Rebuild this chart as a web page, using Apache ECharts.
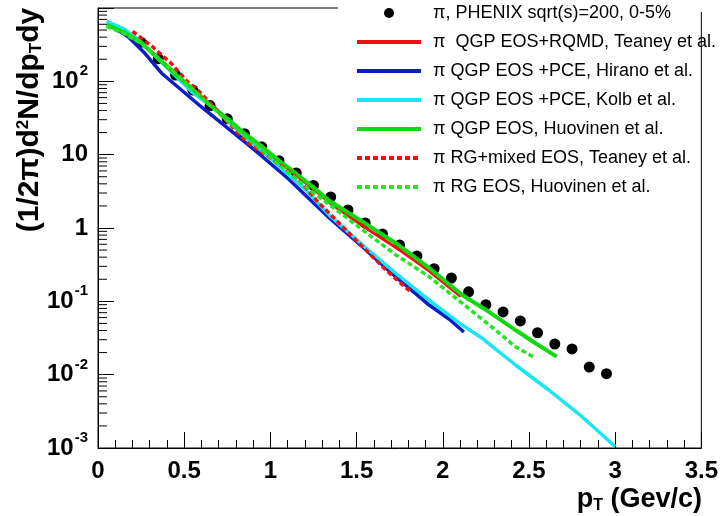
<!DOCTYPE html>
<html>
<head>
<meta charset="utf-8">
<script src="https://cdn.jsdelivr.net/npm/echarts@6/dist/echarts.min.js"></script>
<style>
  html, body { margin: 0; padding: 0; background: #fff; }
  #main { width: 721px; height: 516px; }
</style>
</head>
<body>
<div id="main"></div>
<script>
// PHENIX data points (pT in GeV/c, invariant yield)
const phenixPt = [0.25, 0.35, 0.45, 0.55, 0.65, 0.75, 0.85, 0.95, 1.05, 1.15, 1.25, 1.35, 1.45, 1.55,
  1.65, 1.75, 1.85, 1.95, 2.05, 2.15, 2.25, 2.35, 2.45, 2.55, 2.65, 2.75, 2.85, 2.95]
const phenixYield = [342, 204, 122, 76, 46.7, 30.8, 19.3, 12.8, 8.27, 5.64, 3.80, 2.65, 1.76, 1.17,
  0.83, 0.586, 0.415, 0.279, 0.208, 0.135, 0.090, 0.0716, 0.054, 0.0373, 0.0262, 0.0224, 0.0127, 0.0103]

// QGP EOS+RQMD, Teaney
const teaneyRqmdPt = [0.15, 0.25, 0.35, 0.5, 0.75, 1.0, 1.25, 1.361, 1.554, 1.75, 1.92, 2.104]
const teaneyRqmdYield = [480, 340, 210, 100, 30, 10, 3.4, 2.06, 1.0, 0.5, 0.26, 0.116]

// QGP EOS +PCE, Hirano
const hiranoPt = [0.069, 0.175, 0.272, 0.369, 0.484, 0.6, 0.756, 0.908, 1.099, 1.342, 1.535, 1.728, 1.921, 2.036, 2.123]
const hiranoYield = [587, 406, 241, 129, 76.2, 44.7, 22.6, 11.6, 4.81, 1.37, 0.551, 0.215, 0.089, 0.0574, 0.0382]

// QGP EOS +PCE, Kolb
const kolbPt = [0.05, 0.15, 0.25, 0.35, 0.45, 0.55, 0.68, 0.78, 0.9, 1.0, 1.1, 1.2, 1.342, 1.535, 1.728,
  1.921, 2.113, 2.229, 2.422, 2.615, 2.808, 3.0]
const kolbYield = [660, 520, 345, 200, 118, 70, 42, 25, 14, 9.0, 5.5, 3.4, 1.5, 0.586, 0.241,
  0.104, 0.0475, 0.0313, 0.01355, 0.00618, 0.00267, 0.00105]

// QGP EOS, Huovinen
const huoQgpPt = [0.05, 0.15, 0.25, 0.35, 0.45, 0.55, 0.65, 0.75, 0.85, 0.95, 1.05, 1.15, 1.25, 1.342,
  1.535, 1.728, 1.921, 2.113, 2.268, 2.422, 2.538, 2.661]
const huoQgpYield = [590, 470, 335, 205, 125, 78, 48, 31, 19.5, 13, 8.3, 5.5, 3.6, 2.35,
  1.22, 0.62, 0.285, 0.122, 0.072, 0.0406, 0.0268, 0.0176]

// RG+mixed EOS, Teaney
const teaneyRgPt = [0.2, 0.214, 0.318, 0.422, 0.521, 0.59, 0.86, 0.976, 1.072, 1.169, 1.265, 1.67, 1.747, 1.815]
const teaneyRgYield = [480, 456, 294, 178, 98, 71.6, 15.0, 9.9, 6.86, 4.52, 2.41, 0.267, 0.185, 0.135]

// RG EOS, Huovinen
const huoRgPt = [0.05, 0.15, 0.25, 0.35, 0.45, 0.55, 0.65, 0.75, 0.85, 0.95, 1.05, 1.15, 1.25, 1.371,
  1.535, 1.728, 1.921, 2.113, 2.306, 2.422, 2.538]
const huoRgYield = [560, 450, 330, 210, 128, 78, 47, 29, 18, 11.5, 7.3, 4.7, 3.0, 1.86,
  0.94, 0.429, 0.217, 0.094, 0.0406, 0.024, 0.0167]

// log-axis minor tick positions (2..9 x 10^n)
const minorTicks = []
for (let n = -3; n < 3; n++) {
  for (let k = 2; k <= 9; k++) minorTicks.push([0, k * Math.pow(10, n)])
}

function pairs(xs, ys) {
  return xs.map((x, i) => [x, ys[i]])
}

const names = [
  'π, PHENIX sqrt(s)=200, 0-5%',
  'π  QGP EOS+RQMD, Teaney et al.',
  'π QGP EOS +PCE, Hirano et al.',
  'π QGP EOS +PCE, Kolb et al.',
  'π QGP EOS, Huovinen et al.',
  'π RG+mixed EOS, Teaney et al.',
  'π RG EOS, Huovinen et al.'
]

function lineSeries(name, data, color, width, dashed) {
  return {
    name: name,
    type: 'line',
    data: data,
    symbol: 'none',
    smooth: false,
    lineStyle: { color: color, width: width, type: dashed ? [5, 3] : 'solid' },
    itemStyle: { color: color }
  }
}

// legend: only the dot entry keeps its symbol
const legendData = names.map((n, i) => i === 0 ? { name: n } : { name: n, itemStyle: { opacity: 0 } })

const chart = echarts.init(document.getElementById('main'))
chart.setOption({
  animation: false,
  backgroundColor: '#fff',
  grid: { left: 98, top: 8, right: 18, bottom: 68, show: true, borderColor: '#000', borderWidth: 1 },
  legend: {
    orient: 'vertical',
    left: 355,
    top: 3,
    padding: 0,
    z: 10,
    itemWidth: 64,
    itemHeight: 10,
    itemGap: 9,
    selectedMode: false,
    lineStyle: { width: 4 },
    textStyle: {
      fontFamily: 'Liberation Sans, Arial',
      fontSize: 18,
      lineHeight: 20,
      color: '#000',
      padding: [0, 0, 0, 7]
    },
    data: legendData
  },
  graphic: [
    // legend box hides the top frame on the right
    { type: 'rect', z: 5, shape: { x: 338, y: 0, width: 383, height: 12 }, style: { fill: '#fff' } },
    {
      type: 'text',
      x: 30, y: 120,
      rotation: Math.PI / 2,
      style: {
        text: '(1/2π)d{sup|2}N/dp{sub|T}dy',
        font: 'bold 30px Liberation Sans, Arial',
        fill: '#000',
        align: 'center',
        verticalAlign: 'middle',
        rich: {
          sup: { fontSize: 17, fontWeight: 'bold', verticalAlign: 'top', lineHeight: 17 },
          sub: { fontSize: 17, fontWeight: 'bold', verticalAlign: 'bottom', lineHeight: 17 }
        }
      }
    },
    {
      type: 'text',
      x: 702, y: 500,
      style: {
        text: 'p{sub|T} (Gev/c)',
        font: 'bold 27px Liberation Sans, Arial',
        fill: '#000',
        align: 'right',
        verticalAlign: 'middle',
        rich: {
          sub: { fontSize: 16, fontWeight: 'bold', verticalAlign: 'bottom', lineHeight: 16 }
        }
      }
    }
  ],
  xAxis: {
    type: 'value',
    min: 0,
    max: 3.5,
    interval: 0.5,
    splitLine: { show: false },
    axisLine: { show: true, lineStyle: { color: '#000', width: 1 } },
    axisTick: { show: true, inside: true, length: 16, lineStyle: { color: '#000' } },
    minorTick: { show: true, splitNumber: 5, length: 8, lineStyle: { color: '#000' } },
    axisLabel: {
      margin: 11,
      color: '#000',
      fontFamily: 'Liberation Sans, Arial',
      fontWeight: 'bold',
      fontSize: 24,
      showMaxLabel: true,
      showMinLabel: true
    }
  },
  yAxis: {
    type: 'log',
    logBase: 10,
    min: 0.001,
    max: 1000,
    splitLine: { show: false },
    axisLine: { show: true, lineStyle: { color: '#000', width: 1 } },
    axisTick: { show: true, inside: true, length: 16, lineStyle: { color: '#000' } },
    axisLabel: {
      margin: 10,
      color: '#000',
      fontFamily: 'Liberation Sans, Arial',
      fontWeight: 'bold',
      fontSize: 24,
      formatter: function (v) {
        const e = Math.round(Math.log10(v))
        if (e >= 3) return ''
        if (e === 0) return '1'
        if (e === 1) return '10'
        return '10{s|' + e + '}'
      },
      rich: {
        s: { fontSize: 15, fontWeight: 'bold', fontFamily: 'Liberation Sans, Arial', color: '#000', padding: [0, 0, 20, 1] }
      }
    }
  },
  series: [
    {
      type: 'custom',
      silent: true,
      data: minorTicks,
      renderItem: function (params, api) {
        const p = api.coord([api.value(0), api.value(1)])
        return {
          type: 'line',
          shape: { x1: p[0], y1: p[1], x2: p[0] + 9, y2: p[1] },
          style: { stroke: '#000', lineWidth: 1 }
        }
      }
    },
    lineSeries(names[1], pairs(teaneyRqmdPt, teaneyRqmdYield), '#f01010', 3, false),
    lineSeries(names[2], pairs(hiranoPt, hiranoYield), '#0b1ec6', 3.5, false),
    lineSeries(names[3], pairs(kolbPt, kolbYield), '#19e6f5', 3.5, false),
    lineSeries(names[4], pairs(huoQgpPt, huoQgpYield), '#12d812', 4, false),
    lineSeries(names[5], pairs(teaneyRgPt, teaneyRgYield), '#f01010', 3.5, true),
    lineSeries(names[6], pairs(huoRgPt, huoRgYield), '#22e622', 3.5, true),
    {
      name: names[0],
      type: 'scatter',
      data: pairs(phenixPt, phenixYield),
      symbol: 'circle',
      symbolSize: 11,
      itemStyle: { color: '#000', opacity: 1 }
    }
  ]
})
</script>
</body>
</html>
